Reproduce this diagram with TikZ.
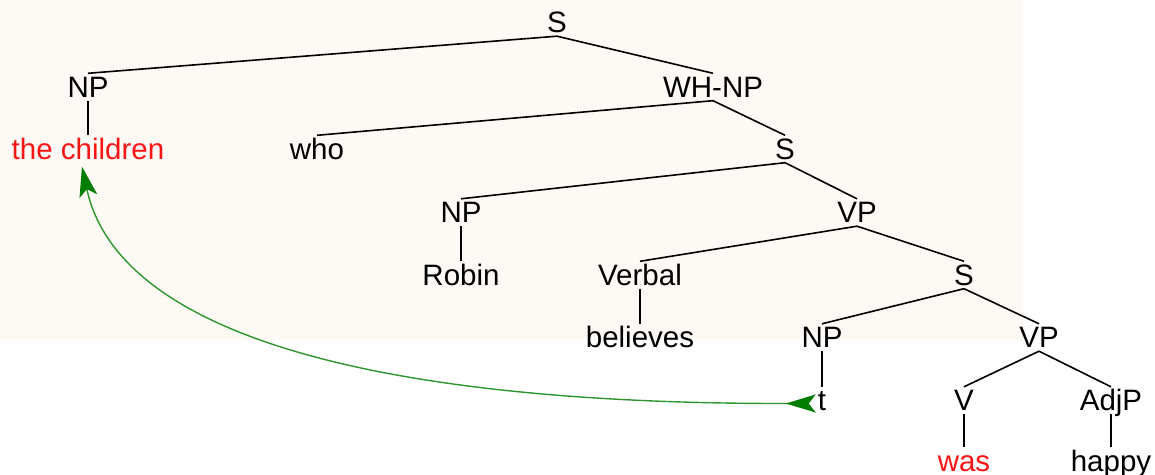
\documentclass[tikz,border=0pt]{standalone}
\usepackage{fontspec}
\setmainfont{Liberation Sans}
\usetikzlibrary{arrows.meta}
\definecolor{bg}{RGB}{253,250,245}
\definecolor{mvline}{RGB}{45,150,45}
\definecolor{mvtip}{RGB}{0,125,0}
\definecolor{redtxt}{RGB}{250,20,20}
\tikzset{
  lbl/.style={font=\fontsize{29.5bp}{35bp}\selectfont, text height=21bp, text depth=0bp,
    inner ysep=3bp, inner xsep=2bp, anchor=base},
  redlbl/.style={lbl, text=redtxt},
  edge/.style={draw=black, line width=1.6bp},
  mv/.style={draw=mvline, line width=1.4bp,
    arrows={Stealth[length=30bp,width=18bp,inset=7bp,color=mvtip,fill=mvtip]-Stealth[reversed,length=30bp,width=18bp,inset=7bp,color=mvtip,fill=mvtip]}}
}
\begin{document}
\begin{tikzpicture}[x=1bp,y=-1bp]
\useasboundingbox (0,0) rectangle (1155,475);
\fill[bg] (0,0) rectangle (1023,340);

\node[lbl] (S0) at (557,33) {S};
\node[lbl] (NPa) at (88,97.5) {NP};
\node[lbl] (WH) at (713,97.5) {WH-NP};
\node[redlbl] (ch) at (88,159.5) {the children};
\node[lbl] (who) at (317,159.5) {who};
\node[lbl] (S2) at (785,159.5) {S};
\node[lbl] (NPb) at (461,223) {NP};
\node[lbl] (VPa) at (857,223) {VP};
\node[lbl] (robin) at (461,285.5) {Robin};
\node[lbl] (verbal) at (640,285.5) {Verbal};
\node[lbl] (S4) at (964,285.5) {S};
\node[lbl] (believes) at (640,348) {believes};
\node[lbl] (NPc) at (822,348) {NP};
\node[lbl] (VPb) at (1039,348) {VP};
\node[lbl] (t) at (822,411) {t};
\node[lbl] (V) at (964,411) {V};
\node[lbl] (AdjP) at (1111,411) {AdjP};
\node[redlbl] (was) at (964,471.5) {was};
\node[lbl] (happy) at (1111,471.5) {happy};

\draw[edge] (S0.south) -- (NPa.north);
\draw[edge] (S0.south) -- (WH.north);
\draw[edge] (NPa.south) -- (ch.north);
\draw[edge] (WH.south) -- (who.north);
\draw[edge] (WH.south) -- (S2.north);
\draw[edge] (S2.south) -- (NPb.north);
\draw[edge] (S2.south) -- (VPa.north);
\draw[edge] (NPb.south) -- (robin.north);
\draw[edge] (VPa.south) -- (verbal.north);
\draw[edge] (VPa.south) -- (S4.north);
\draw[edge] (verbal.south) -- (believes.north);
\draw[edge] (S4.south) -- (NPc.north);
\draw[edge] (S4.south) -- (VPb.north);
\draw[edge] (NPc.south) -- (t.north);
\draw[edge] (VPb.south) -- (V.north);
\draw[edge] (VPb.south) -- (AdjP.north);
\draw[edge] (V.south) -- (was.north);
\draw[edge] (AdjP.south) -- (happy.north);

\draw[mv] ([xshift=-6bp,yshift=-4bp]ch.south) .. controls (115,320) and (330,404) .. ([yshift=-3bp]t.west);
\end{tikzpicture}
\end{document}
